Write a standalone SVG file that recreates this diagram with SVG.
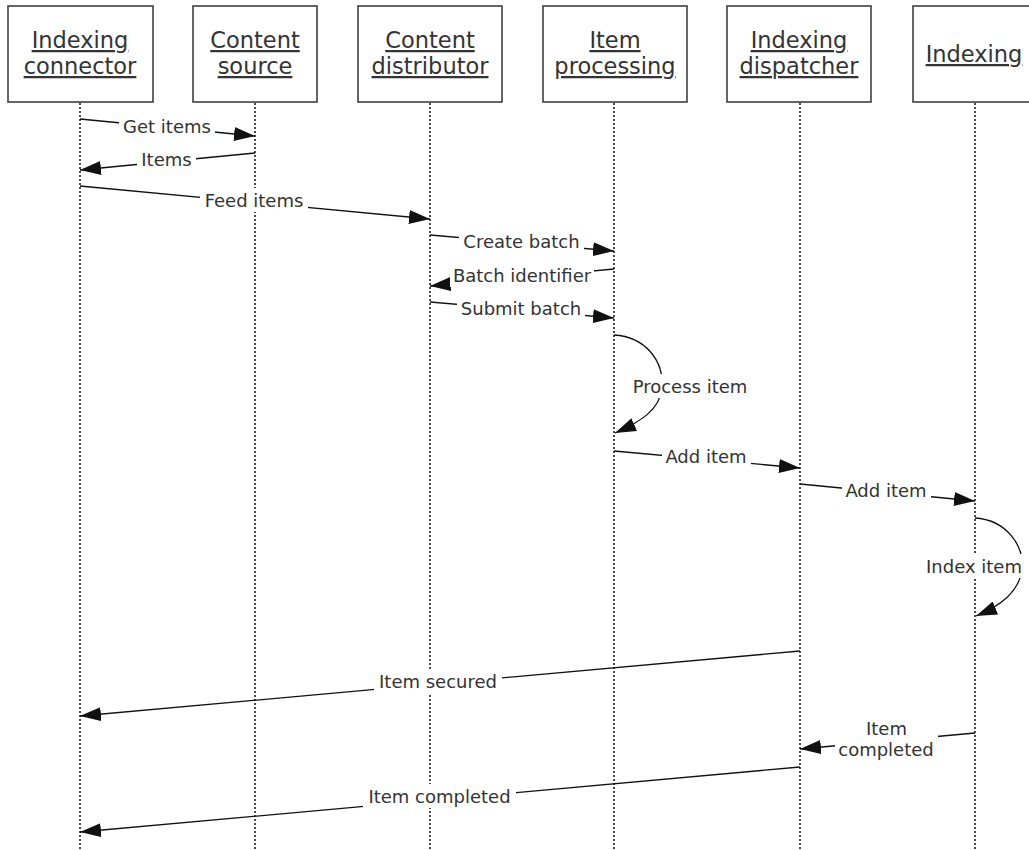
<svg xmlns="http://www.w3.org/2000/svg" width="1029" height="850" viewBox="0 0 1029 850">
  <style>
    .box { fill: #fff; stroke: #333; stroke-width: 1.5; }
    .head { font-family: "DejaVu Sans", Verdana, sans-serif; font-size: 22.5px; fill: #333; text-anchor: middle; text-decoration: underline; }
    .life { stroke: #111; stroke-width: 1.5; stroke-dasharray: 2 2; fill: none; }
    .msg { stroke: #111; stroke-width: 1.3; fill: none; marker-end: url(#arrow); }
    .bg { fill: #fff; }
    .lbl { font-family: "DejaVu Sans", Verdana, sans-serif; font-size: 18px; fill: #333; text-anchor: middle; }
  </style>
  <defs>
    <marker id="arrow" markerUnits="userSpaceOnUse" markerWidth="22" markerHeight="14" refX="21" refY="7" orient="auto">
      <path d="M0,0 L21,7 L0,14 z" fill="#111"/>
    </marker>
  </defs>
  <rect width="1029" height="850" fill="#fff"/>

  <!-- lifelines -->
  <g id="lifelines">
    <line class="life" x1="80" y1="103" x2="80" y2="850"/>
    <line class="life" x1="255" y1="103" x2="255" y2="850"/>
    <line class="life" x1="430" y1="103" x2="430" y2="850"/>
    <line class="life" x1="614" y1="103" x2="614" y2="850"/>
    <line class="life" x1="800" y1="103" x2="800" y2="850"/>
    <line class="life" x1="975" y1="103" x2="975" y2="850"/>
  </g>

  <!-- participants -->
  <g id="indexing-connector">
    <rect class="box" x="8" y="6" width="145" height="96"/>
    <text class="head" x="80" y="48">Indexing</text>
    <text class="head" x="80" y="74">connector</text>
  </g>
  <g id="content-source">
    <rect class="box" x="193" y="6" width="124" height="96"/>
    <text class="head" x="255" y="48">Content</text>
    <text class="head" x="255" y="74">source</text>
  </g>
  <g id="content-distributor">
    <rect class="box" x="358" y="6" width="144" height="96"/>
    <text class="head" x="430" y="48">Content</text>
    <text class="head" x="430" y="74">distributor</text>
  </g>
  <g id="item-processing">
    <rect class="box" x="543" y="6" width="144" height="96"/>
    <text class="head" x="615" y="48">Item</text>
    <text class="head" x="615" y="74">processing</text>
  </g>
  <g id="indexing-dispatcher">
    <rect class="box" x="727" y="6" width="144" height="96"/>
    <text class="head" x="799" y="48">Indexing</text>
    <text class="head" x="799" y="74">dispatcher</text>
  </g>
  <g id="indexing">
    <rect class="box" x="913" y="6" width="124" height="96"/>
    <text class="head" x="974" y="62">Indexing</text>
  </g>

  <!-- messages -->
  <g id="connectors">
    <line class="msg" x1="80" y1="119" x2="255" y2="136"/>
    <line class="msg" x1="255" y1="153" x2="80" y2="170"/>
    <line class="msg" x1="80" y1="186" x2="430" y2="219"/>
    <line class="msg" x1="430" y1="235" x2="614" y2="251"/>
    <line class="msg" x1="614" y1="269" x2="430" y2="286"/>
    <line class="msg" x1="430" y1="302" x2="614" y2="318"/>
    <path class="msg" d="M614,335 C645,337 664,360 662,388 C660,410 640,422 615,433"/>
    <line class="msg" x1="614" y1="451" x2="800" y2="468"/>
    <line class="msg" x1="800" y1="484" x2="975" y2="501"/>
    <path class="msg" d="M975,518 C1006,520 1024,545 1022,568 C1020,592 1000,606 976,616"/>
    <line class="msg" x1="800" y1="651" x2="80" y2="716"/>
    <line class="msg" x1="975" y1="733" x2="800" y2="749"/>
    <line class="msg" x1="800" y1="767" x2="80" y2="832"/>
  </g>

  <!-- message labels -->
  <g id="labels">
    <rect class="bg" x="119" y="114" width="96" height="24"/>
    <text class="lbl" x="167" y="133">Get items</text>
    <rect class="bg" x="137" y="147" width="59" height="24"/>
    <text class="lbl" x="166.5" y="166">Items</text>
    <rect class="bg" x="200" y="188" width="108" height="24"/>
    <text class="lbl" x="254" y="207">Feed items</text>
    <rect class="bg" x="459" y="229" width="125" height="24"/>
    <text class="lbl" x="521.5" y="248">Create batch</text>
    <rect class="bg" x="450" y="263" width="144" height="24"/>
    <text class="lbl" x="522" y="282">Batch identifier</text>
    <rect class="bg" x="457" y="296" width="128" height="24"/>
    <text class="lbl" x="521" y="315">Submit batch</text>
    <rect class="bg" x="628" y="374" width="124" height="24"/>
    <text class="lbl" x="690" y="393">Process item</text>
    <rect class="bg" x="662" y="444" width="89" height="24"/>
    <text class="lbl" x="706" y="463">Add item</text>
    <rect class="bg" x="842" y="478" width="89" height="24"/>
    <text class="lbl" x="886" y="497">Add item</text>
    <rect class="bg" x="922" y="554" width="107" height="24"/>
    <text class="lbl" x="974" y="573">Index item</text>
    <rect class="bg" x="374" y="669" width="128" height="24"/>
    <text class="lbl" x="438" y="688">Item secured</text>
    <rect class="bg" x="835" y="716" width="103" height="46"/>
    <text class="lbl" x="886.5" y="735">Item</text>
    <text class="lbl" x="886" y="756">completed</text>
    <rect class="bg" x="363" y="784" width="153" height="24"/>
    <text class="lbl" x="439.5" y="803">Item completed</text>
  </g>
</svg>
